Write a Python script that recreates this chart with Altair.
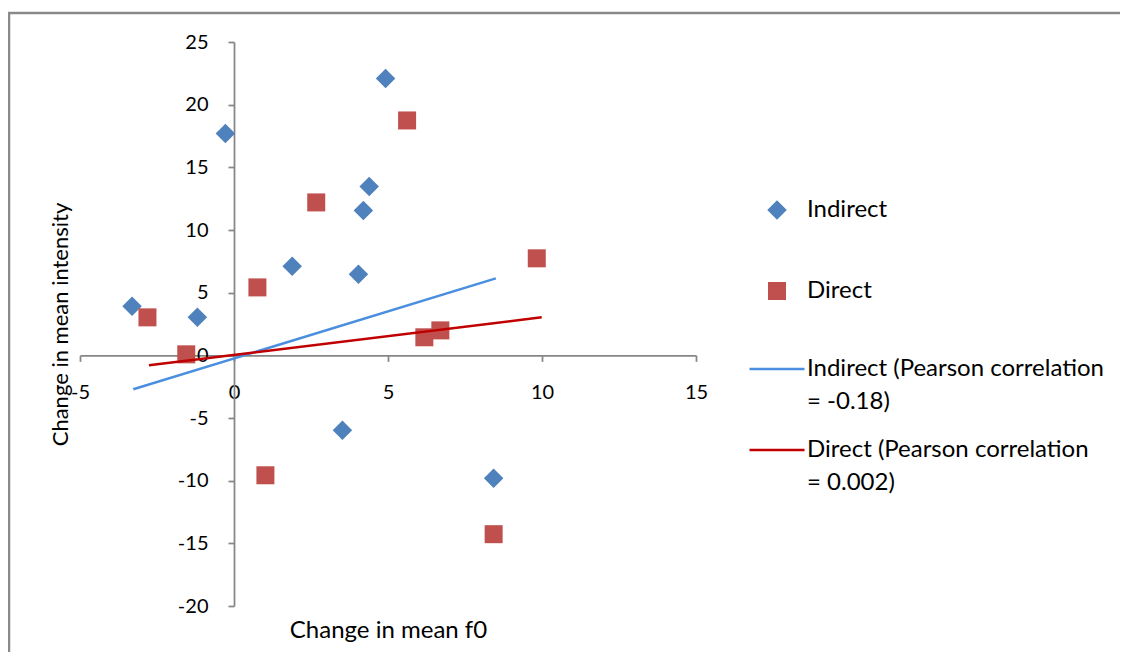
import altair as alt
import pandas as pd

# ---- data ----
ind_x = [-3.31, -1.19, -0.28, 1.89, 4.04, 4.20, 4.39, 4.92, 3.52, 8.43]
ind_y = [3.91, 3.03, 17.70, 7.10, 6.46, 11.56, 13.48, 22.09, -5.98, -9.81]
dir_x = [-2.81, -1.55, 0.76, 1.02, 2.67, 5.62, 6.18, 6.70, 8.43, 9.83]
dir_y = [3.03, 0.08, 5.42, -9.57, 12.20, 18.74, 1.44, 1.99, -14.27, 7.74]

trend_ind_x = [-3.27, 8.50]
trend_ind_y = [-2.71, 6.14]
trend_dir_x = [-2.76, 9.99]
trend_dir_y = [-0.80, 3.03]

series_names = ["Indirect", "Direct"]
trend_ind_labels = ["Indirect (Pearson correlation", "= -0.18)"]
trend_dir_labels = ["Direct (Pearson correlation", "= 0.002)"]

x_ticks = [-5, 0, 5, 10, 15]
y_ticks = [-20, -15, -10, -5, 0, 5, 10, 15, 20, 25]
x_domain = [-5, 15]
y_domain = [-20, 25]

# ---- styling ----
BLUE = "#4F81BD"
RED = "#C0504D"
LBLUE = "#4A8FDF"
DRED = "#C00000"
FONT = "Lato"
W, H = 616, 564

pts = pd.DataFrame({
    "x": ind_x + dir_x,
    "y": ind_y + dir_y,
    "series": [series_names[0]] * len(ind_x) + [series_names[1]] * len(dir_x),
})
t_ind = pd.DataFrame({"x": trend_ind_x, "y": trend_ind_y, "trend": [trend_ind_labels[0]] * 2})
t_dir = pd.DataFrame({"x": trend_dir_x, "y": trend_dir_y, "trend": [trend_dir_labels[0]] * 2})

x_off = -(W * (0 - x_domain[0]) / (x_domain[1] - x_domain[0]))
y_off = -(H * (0 - y_domain[0]) / (y_domain[1] - y_domain[0]))

xenc = alt.X(
    "x:Q",
    scale=alt.Scale(domain=x_domain, nice=False, zero=False),
    axis=alt.Axis(values=x_ticks, offset=y_off, title="Change in mean f0",
                  titleY=275, titleBaseline="middle", titleFontSize=24,
                  labelPadding=21, labelFlush=False, labelOverlap=False,
                  labelExpr="'' + datum.value"),
)
yenc = alt.Y(
    "y:Q",
    scale=alt.Scale(domain=y_domain, nice=False, zero=False),
    axis=alt.Axis(values=y_ticks, offset=x_off, title="Change in mean intensity",
                  titleX=-174, titleBaseline="middle", titleAlign="center",
                  titleFontSize=22,
                  labelPadding=20, labelFlush=False, labelOverlap=False,
                  labelExpr="'' + datum.value"),
)

frame = alt.Chart(pd.DataFrame({"a": [0]})).mark_rect(
    filled=False, stroke="#8A8A8A", strokeWidth=2.5
).encode(
    x=alt.value(-71), x2=alt.value(1100), y=alt.value(-29), y2=alt.value(700)
)

leg_pts = alt.Legend(title=None, orient="none", legendX=685, legendY=153,
                     clipHeight=30, rowPadding=51,
                     labelOffset=18, padding=0, symbolStrokeWidth=0)
points = alt.Chart(pts).mark_point(filled=True, opacity=1).encode(
    x=xenc, y=yenc,
    color=alt.Color("series:N", scale=alt.Scale(domain=series_names, range=[BLUE, RED]), legend=leg_pts),
    shape=alt.Shape("series:N", scale=alt.Scale(domain=series_names, range=["diamond", "square"]), legend=leg_pts),
    size=alt.Size("series:N", scale=alt.Scale(domain=series_names, range=[380, 324]), legend=leg_pts),
)

leg_ind = alt.Legend(title=None, orient="none", legendX=668, legendY=312,
                     symbolType="stroke", symbolSize=3025, symbolStrokeWidth=2.5,
                     clipHeight=30, rowPadding=3, labelOffset=1, padding=0)
line_ind = alt.Chart(t_ind).mark_line(strokeWidth=2.5).encode(
    x=xenc, y=yenc,
    color=alt.Color("trend:N", scale=alt.Scale(domain=trend_ind_labels, range=[LBLUE, "transparent"]), legend=leg_ind),
)

leg_dir = alt.Legend(title=None, orient="none", legendX=668, legendY=393,
                     symbolType="stroke", symbolSize=3025, symbolStrokeWidth=2.5,
                     clipHeight=30, rowPadding=3, labelOffset=1, padding=0)
line_dir = alt.Chart(t_dir).mark_line(strokeWidth=2.5).encode(
    x=xenc, y=yenc,
    color=alt.Color("trend:N", scale=alt.Scale(domain=trend_dir_labels, range=[DRED, "transparent"]), legend=leg_dir),
)

chart = alt.layer(frame, points, line_ind, line_dir).resolve_scale(
    color="independent", shape="independent", size="independent"
).properties(
    width=W, height=H,
    autosize=alt.AutoSizeParams(type="none"),
    padding={"left": 72, "top": 34, "right": 424, "bottom": 46},
    background="white",
).configure_view(stroke=None).configure_axis(
    labelFont=FONT, labelFontSize=20, labelColor="#000000",
    titleFont=FONT, titleFontSize=23, titleFontWeight="normal", titleColor="#000000",
    domainColor="#868686", tickColor="#868686", domainWidth=1.75, tickWidth=1.75,
    tickSize=6, grid=False,
).configure_legend(
    labelFont=FONT, labelFontSize=24, labelColor="#000000", labelLimit=400,
)

chart.save("out.html", embed_options={"renderer": "svg", "actions": False})
